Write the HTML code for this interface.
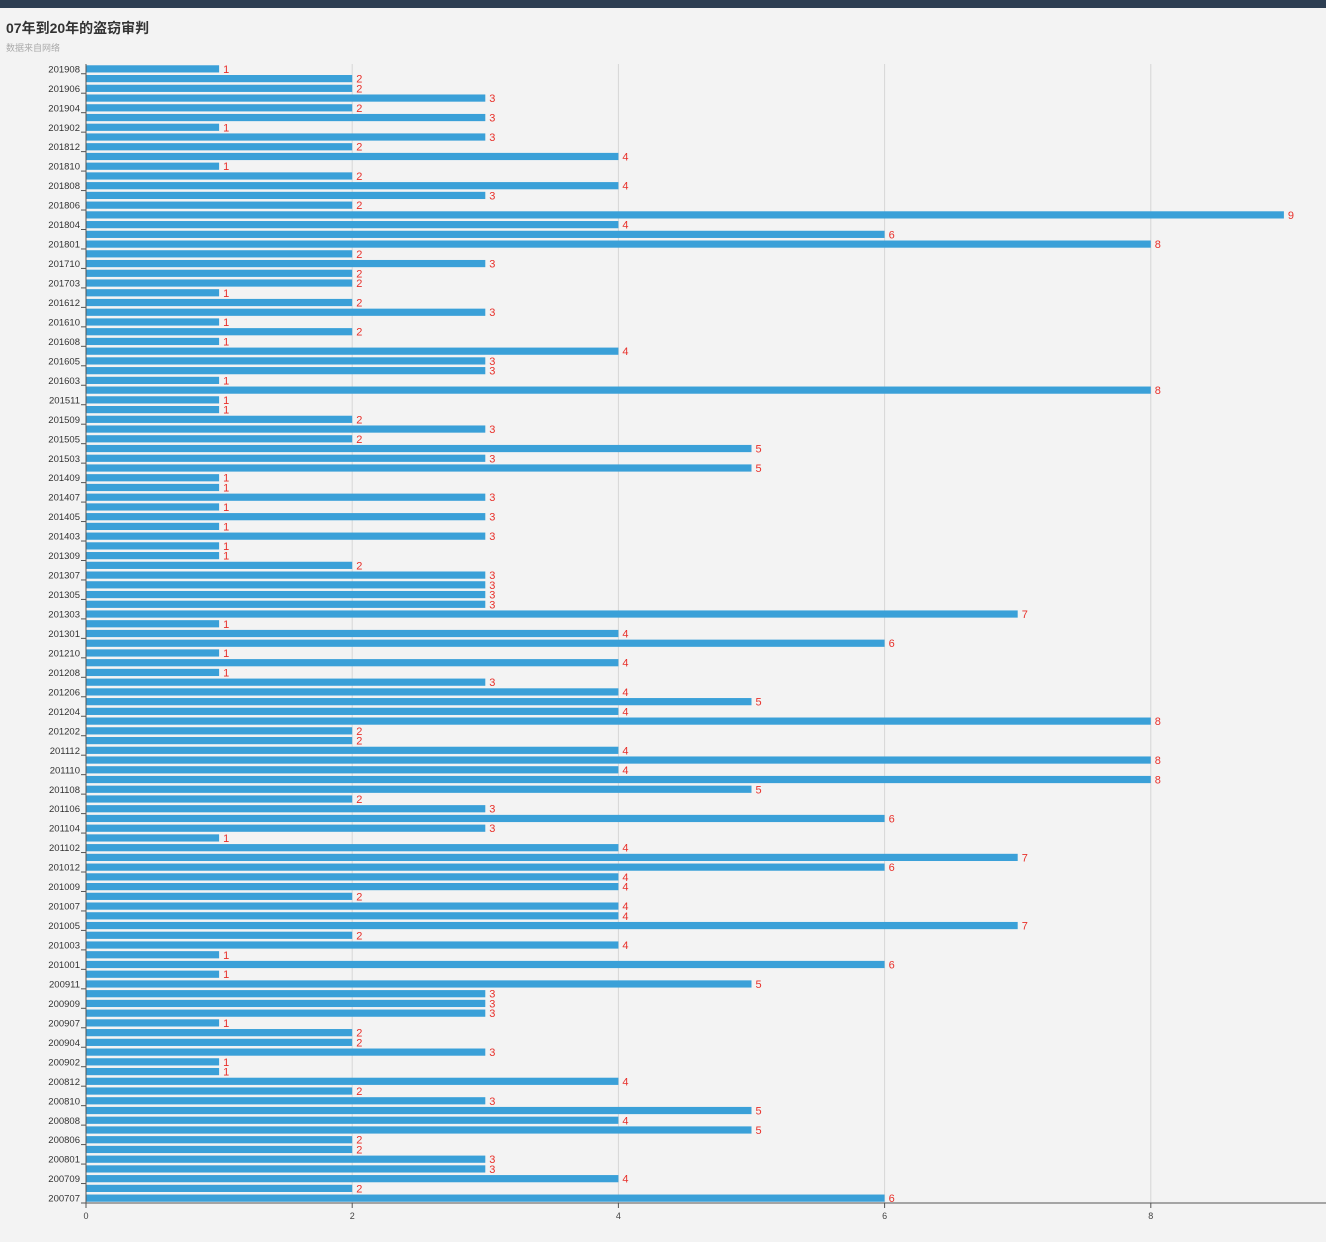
<!DOCTYPE html>
<html><head><meta charset="utf-8"><style>
html,body{margin:0;padding:0;background:#f3f3f3;width:1326px;height:1242px;overflow:hidden;font-family:"Liberation Sans","Noto Sans CJK SC",sans-serif;}
#topbar{position:absolute;left:0;top:0;width:1326px;height:8px;background:#2d3e52;}
#title{position:absolute;left:6px;top:18px;font-size:14px;font-weight:bold;color:#333;}
#subtitle{position:absolute;left:6px;top:41px;font-size:9px;color:#aaa;}
svg{position:absolute;left:0;top:0;}
</style></head><body>
<div id="topbar"></div>
<div id="title">07年到20年的盗窃审判</div>
<div id="subtitle">数据来自网络</div>
<svg id="chart" width="1326" height="1242"></svg>
<script>
const categories=["200707","200708","200709","200712","200801","200805","200806","200807","200808","200809","200810","200811","200812","200901","200902","200903","200904","200906","200907","200908","200909","200910","200911","200912","201001","201002","201003","201004","201005","201006","201007","201008","201009","201011","201012","201101","201102","201103","201104","201105","201106","201107","201108","201109","201110","201111","201112","201201","201202","201203","201204","201205","201206","201207","201208","201209","201210","201211","201301","201302","201303","201304","201305","201306","201307","201308","201309","201401","201403","201404","201405","201406","201407","201408","201409","201501","201503","201504","201505","201507","201509","201510","201511","201601","201603","201604","201605","201606","201608","201609","201610","201611","201612","201701","201703","201705","201710","201712","201801","201803","201804","201805","201806","201807","201808","201809","201810","201811","201812","201901","201902","201903","201904","201905","201906","201907","201908"];
const values=[6,2,4,3,3,2,2,5,4,5,3,2,4,1,1,3,2,2,1,3,3,3,5,1,6,1,4,2,7,4,4,2,4,4,6,7,4,1,3,6,3,2,5,8,4,8,4,2,2,8,4,5,4,3,1,4,1,6,4,1,7,3,3,3,3,2,1,1,3,1,3,1,3,1,1,5,3,5,2,3,2,1,1,8,1,3,3,4,1,2,1,3,2,1,2,2,3,2,8,6,4,9,2,3,4,2,1,4,2,3,1,3,2,3,2,2,1];
const xTicks=[0,2,4,6,8];
const svg=document.getElementById('chart');
const NS='http://www.w3.org/2000/svg';
const X0=86,UNIT=133.1,YB=1203,YT=64;
const band=(YB-YT)/categories.length;
const xs=v=>X0+v*UNIT;
const yc=i=>YB-(i+0.5)*band;
function mk(t,a){const e=document.createElementNS(NS,t);for(const k in a)e.setAttribute(k,a[k]);svg.appendChild(e);return e;}
xTicks.forEach(t=>{
  if(t>0){const g=mk('line',{x1:xs(t),x2:xs(t),y1:YT,y2:YB,stroke:'#d6d6d6','stroke-width':1});
  
  }
  const tk=mk('line',{x1:xs(t),x2:xs(t),y1:YB,y2:YB+5,stroke:'#555'});
  
  
  const l=mk('text',{x:xs(t),y:YB+16,'font-size':9,fill:'#444','text-anchor':'middle'});
  l.textContent=t;
  
  
});
values.forEach((v,i)=>{
  const y=yc(i);
  const b=mk('rect',{x:X0,y:y-3.6,width:v*UNIT,height:7.2,fill:'#3aa0d8'});
  
  
  const t=mk('text',{x:xs(v)+4,y:y+4,'font-size':11,fill:'#e8302a'});
  t.textContent=v;
  
  
  if(i%2===0){
    const tk=mk('line',{x1:X0-5,x2:X0,y1:y+band/2,y2:y+band/2,stroke:'#555'});
    
    
    const l=mk('text',{x:X0-6,y:y+3.5,'font-size':9.5,fill:'#333','text-anchor':'end'});
    l.textContent=categories[i];
    
    
  }
});
const ya=mk('line',{x1:X0,x2:X0,y1:YT,y2:YB,stroke:'#555'});


const xa=mk('line',{x1:X0,x2:1326,y1:YB,y2:YB,stroke:'#555'});


</script>
</body></html>
